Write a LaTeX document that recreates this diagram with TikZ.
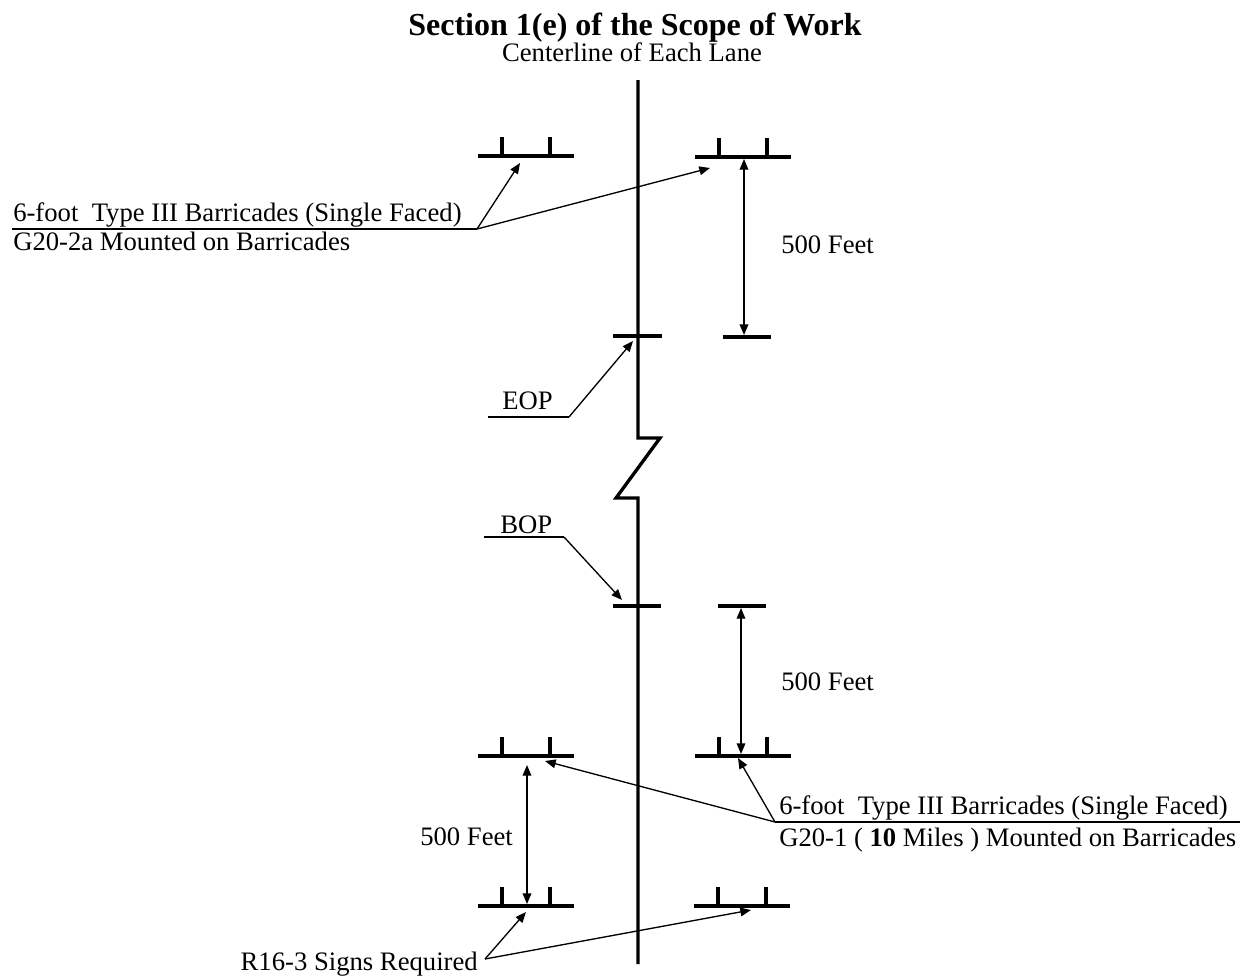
\documentclass[tikz,border=0pt]{standalone}
\usepackage{fontspec}
\setmainfont{Liberation Serif}
\usetikzlibrary{arrows.meta}

\tikzset{
	thickline/.style={line width=2.5pt},
	thinline/.style={line width=1pt},
	dimline/.style={thinline,{Triangle[length=8pt,width=6.5pt]}-{Triangle[length=8pt,width=6.5pt]}},
	leader/.style={thinline,-{Triangle[length=8pt,width=6.5pt]}},
	lbl/.style={inner sep=0pt,font=\fontsize{20}{24}\selectfont},
}

\begin{document}
\begin{tikzpicture}[x=0.75pt,y=-0.75pt] %%%{{{
	 \useasboundingbox (0,0) rectangle (1250,975);
	 % barricades
	 \coordinate (UL) at (526,156);
	 \coordinate (UR) at (743,157);
	 \coordinate (LL) at (526,756);
	 \coordinate (LR) at (743,756);
	 \coordinate (BL) at (526,906);
	 \coordinate (BR) at (742,906);
	 \foreach \x in {UL,UR,LL,LR,BL,BR} {
	 	\draw[thickline] (\x) ++(-48,0) -- ++(96,0);
	 	\draw[thickline] (\x) ++(-24,0) -- ++(0,-19);
	 	\draw[thickline] (\x) ++(24,0) -- ++(0,-19);
	 }
	 % centerline with break
	 \coordinate (top) at (638,80);
	 \coordinate (bot) at (638,964);
	 \draw[thickline] (top) -- (638,438) -- (660,438) -- (616,498) -- (638,498) -- (bot);
	 \draw[thickline] (613,336) -- (662,336);
	 \draw[thickline] (613,606) -- (661,606);
	 \draw[thickline] (723,337) -- (771,337);
	 \draw[thickline] (718,606) -- (766,606);
	 % dimensions
	 \coordinate (d1a) at (744,159);
	 \coordinate (d1b) at (744,335);
	 \coordinate (d2a) at (741,608);
	 \coordinate (d2b) at (741,754);
	 \coordinate (d3a) at (527,765);
	 \coordinate (d3b) at (527,904);
	 \foreach \x/\y in {d1a/d1b,d2a/d2b,d3a/d3b} \draw[dimline] (\x) -- (\y);
	 \node[lbl,anchor=base west] (f1) at (781,253) {500 Feet};
	 \node[lbl,anchor=base west] (f2) at (781,690) {500 Feet};
	 \node[lbl,anchor=base west] (f3) at (420,845) {500 Feet};
	 % title
	 \node[inner sep=0pt,anchor=base,font=\fontsize{24}{28}\selectfont\bfseries] (title) at (635,35) {Section 1(e) of the Scope of Work};
	 \node[lbl,anchor=base] (cl) at (632,61) {Centerline of Each Lane};
	 % upper barricade label
	 \coordinate (ua) at (12,229);
	 \coordinate (ub) at (477,229);
	 \node[lbl,anchor=base west] (u1) at (13,221) {6-foot~ Type III Barricades (Single Faced)};
	 \node[lbl,anchor=base west] (u2) at (13,250) {G20-2a Mounted on Barricades};
	 \draw[thinline] (ua) -- (ub);
	 \coordinate (ut1) at (520,163);
	 \coordinate (ut2) at (710,168);
	 \foreach \x in {ut1,ut2} \draw[leader] (ub) -- (\x);
	 % EOP / BOP
	 \coordinate (ea) at (488,417);
	 \coordinate (eb) at (569,417);
	 \coordinate (et) at (633,341);
	 \node[lbl,anchor=base west] (eop) at (502,409) {EOP};
	 \draw[thinline] (ea) -- (eb);
	 \draw[leader] (eb) -- (et);
	 \coordinate (ba) at (484,537);
	 \coordinate (bb) at (564,537);
	 \coordinate (bt) at (622,600);
	 \node[lbl,anchor=base west] (bop) at (500,533) {BOP};
	 \draw[thinline] (ba) -- (bb);
	 \draw[leader] (bb) -- (bt);
	 % lower barricade label
	 \coordinate (la) at (775,822);
	 \coordinate (lb) at (1240,822);
	 \node[lbl,anchor=base west] (l1) at (779,814) {6-foot~ Type III Barricades (Single Faced)};
	 \node[lbl,anchor=base west] (l2) at (779,846) {G20-1 ( \textbf{10} Miles ) Mounted on Barricades};
	 \draw[thinline] (la) -- (lb);
	 \coordinate (lt1) at (545,761);
	 \coordinate (lt2) at (738,758);
	 \foreach \x in {lt1,lt2} \draw[leader] (la) -- (\x);
	 % signs
	 \node[lbl,anchor=base east] (r16) at (478,970) {R16-3 Signs Required};
	 \coordinate (ra) at (485,959);
	 \coordinate (rt1) at (526,912);
	 \coordinate (rt2) at (751,910);
	 \foreach \x in {rt1,rt2} \draw[leader] (ra) -- (\x);
\end{tikzpicture}
\end{document}
